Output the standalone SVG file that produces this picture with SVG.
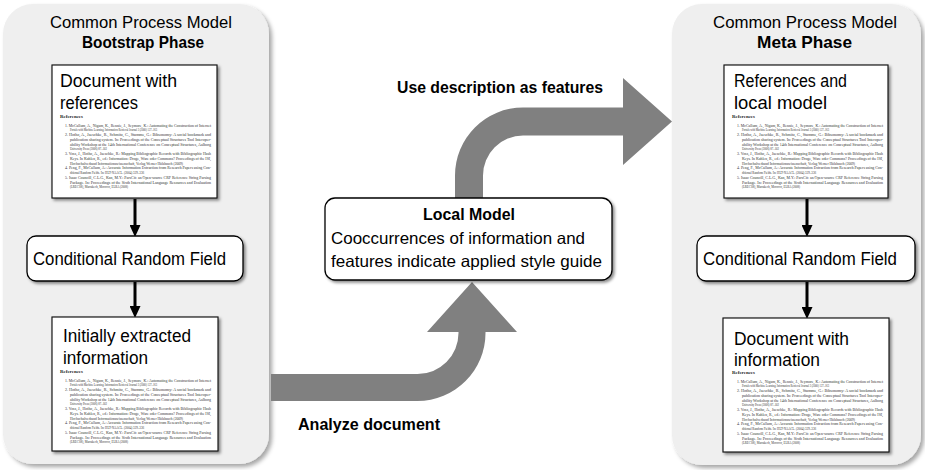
<svg xmlns="http://www.w3.org/2000/svg" xmlns:xlink="http://www.w3.org/1999/xlink" width="925" height="470" viewBox="0 0 925 470">
<defs>
<style>
.panel{fill:#efefef;filter:url(#shp)}
.box{fill:#fff;stroke:#000;stroke-width:1.3;filter:url(#sh)}
.doc{fill:#fff;stroke:#1a1a1a;stroke-width:1.2;filter:url(#sh)}
.t{font-family:"Liberation Sans",Arial,sans-serif;fill:#000}
.b{font-weight:bold}
.big{fill:#808080}
.conn{stroke:#000;stroke-width:3;fill:none;marker-end:url(#ah)}
.ref{font-family:"Liberation Serif","Times New Roman",serif;font-size:4px;fill:#333}
.refh{font-family:"Liberation Serif","Times New Roman",serif;font-size:4.5px;font-weight:bold;fill:#222}
</style>
<filter id="sh" x="-10%" y="-10%" width="130%" height="130%">
<feDropShadow dx="2" dy="2" stdDeviation="1.4" flood-color="#000" flood-opacity="0.45"/>
</filter>
<filter id="shp" x="-5%" y="-5%" width="115%" height="115%">
<feDropShadow dx="3" dy="3" stdDeviation="2" flood-color="#000" flood-opacity="0.35"/>
</filter>
<marker id="ah" markerUnits="userSpaceOnUse" viewBox="0 0 12 11" markerWidth="12" markerHeight="11" refX="0" refY="5.5" orient="auto">
<path d="M0,0 L12,5.5 L0,11 Z" fill="#000"/>
</marker>
<g id="refs">
<text class="refh" x="0" y="0" textLength="23" lengthAdjust="spacingAndGlyphs">References</text>
<text class="ref" x="5" y="8.5" textLength="146" lengthAdjust="spacingAndGlyphs">1. McCallum, A., Nigam, K., Rennie, J., Seymore, K.: Automating the Construction of Internet</text>
<text class="ref" x="10" y="13.25" textLength="87" lengthAdjust="spacingAndGlyphs">Portals with Machine Learning. Information Retrieval Journal 3 (2000) 127–163</text>
<text class="ref" x="5" y="18" textLength="146" lengthAdjust="spacingAndGlyphs">2. Hotho, A., Jaeschke, R., Schmitz, C., Stumme, G.: Bibsonomy: A social bookmark and</text>
<text class="ref" x="10" y="22.75" textLength="141" lengthAdjust="spacingAndGlyphs">publication sharing system. In: Proceedings of the Conceptual Structures Tool Interoper-</text>
<text class="ref" x="10" y="27.5" textLength="141" lengthAdjust="spacingAndGlyphs">ability Workshop at the 14th International Conference on Conceptual Structures, Aalborg</text>
<text class="ref" x="10" y="32.25" textLength="37" lengthAdjust="spacingAndGlyphs">University Press (2006) 87–102</text>
<text class="ref" x="5" y="37" textLength="146" lengthAdjust="spacingAndGlyphs">3. Voss, J., Hotho, A., Jaeschke, R.: Mapping Bibliographic Records with Bibliographic Hash</text>
<text class="ref" x="10" y="41.75" textLength="141" lengthAdjust="spacingAndGlyphs">Keys. In Kuhlen, R., ed.: Information: Droge, Ware oder Commons? Proceedings of the ISI,</text>
<text class="ref" x="10" y="46.5" textLength="113" lengthAdjust="spacingAndGlyphs">Hochschulverband Informationswissenschaft, Verlag Werner Hülsbusch (2009)</text>
<text class="ref" x="5" y="51.25" textLength="146" lengthAdjust="spacingAndGlyphs">4. Peng, F., McCallum, A.: Accurate Information Extraction from Research Papers using Con-</text>
<text class="ref" x="10" y="56" textLength="74" lengthAdjust="spacingAndGlyphs">ditional Random Fields. In: HLT-NAACL. (2004) 329–336</text>
<text class="ref" x="5" y="60.75" textLength="146" lengthAdjust="spacingAndGlyphs">5. Isaac Councill, C.L.G., Kan, M.Y.: ParsCit: an Open-source CRF Reference String Parsing</text>
<text class="ref" x="10" y="65.5" textLength="141" lengthAdjust="spacingAndGlyphs">Package. In: Proceedings of the Sixth International Language Resources and Evaluation</text>
<text class="ref" x="10" y="70.25" textLength="58" lengthAdjust="spacingAndGlyphs">(LREC'08), Marrakech, Morocco, ELRA (2008)</text>
</g>
</defs>

<g id="panel-bootstrap">
<rect class="panel" x="3" y="4" width="266" height="460" rx="30"/>
<text class="t" x="141" y="27.5" font-size="16.5" text-anchor="middle" textLength="182" lengthAdjust="spacingAndGlyphs">Common Process Model</text>
<text class="t b" x="143" y="47.5" font-size="16.5" text-anchor="middle" textLength="122" lengthAdjust="spacingAndGlyphs">Bootstrap Phase</text>
</g>

<g id="panel-meta">
<rect class="panel" x="672" y="4" width="249" height="461" rx="30"/>
<text class="t" x="805" y="27.5" font-size="16.5" text-anchor="middle" textLength="184" lengthAdjust="spacingAndGlyphs">Common Process Model</text>
<text class="t b" x="804.5" y="48" font-size="16.5" text-anchor="middle" textLength="95" lengthAdjust="spacingAndGlyphs">Meta Phase</text>
</g>

<g id="connectors">
<path class="big" d="M271 374 L417.5 374 A41 41 0 0 0 458.5 333 L458.5 332 L427 332 L472 282 L517 332 L485.5 332 L485.5 333 A68 68 0 0 1 417.5 401 L271 401 Z"/>
<path class="big" d="M455 200 L455 175.5 A68 68 0 0 1 523 107.5 L623 107.5 L623 78 L672 121.5 L623 165 L623 135.5 L523 135.5 A40 40 0 0 0 483 175.5 L483 200 Z"/>
<path class="conn" d="M135 199 L135 225"/>
<path class="conn" d="M135 282 L135 306"/>
<path class="conn" d="M807 199 L807 225"/>
<path class="conn" d="M807 282 L807 307"/>
</g>

<g id="doc-references">
<rect class="doc" x="52" y="65" width="165" height="133"/>
<text class="t" x="60" y="87" font-size="17.5" textLength="117" lengthAdjust="spacingAndGlyphs">Document with</text>
<text class="t" x="60" y="109" font-size="17.5" textLength="78" lengthAdjust="spacingAndGlyphs">references</text>
<use xlink:href="#refs" href="#refs" x="60" y="118"/>
</g>

<g id="crf-bootstrap">
<rect class="box" x="27" y="236" width="216" height="45" rx="9"/>
<text class="t" x="33" y="265" font-size="17.5" textLength="193" lengthAdjust="spacingAndGlyphs">Conditional Random Field</text>
</g>

<g id="doc-extracted">
<rect class="doc" x="52" y="317" width="166" height="134"/>
<text class="t" x="63" y="341.5" font-size="17.5" textLength="128" lengthAdjust="spacingAndGlyphs">Initially extracted</text>
<text class="t" x="63" y="363.5" font-size="17.5" textLength="85" lengthAdjust="spacingAndGlyphs">information</text>
<use xlink:href="#refs" href="#refs" x="60" y="373"/>
</g>

<g id="local-model">
<rect class="box" x="325" y="198" width="287" height="82" rx="10"/>
<text class="t b" x="469" y="220" font-size="16.5" text-anchor="middle" textLength="92" lengthAdjust="spacingAndGlyphs">Local Model</text>
<text class="t" x="331" y="243.5" font-size="16.5" textLength="254" lengthAdjust="spacingAndGlyphs">Cooccurrences of information and</text>
<text class="t" x="331" y="267" font-size="16.5" textLength="271" lengthAdjust="spacingAndGlyphs">features indicate applied style guide</text>
</g>

<g id="label-use">
<text class="t b" x="397" y="93" font-size="16" textLength="206" lengthAdjust="spacingAndGlyphs">Use description as features</text>
</g>
<g id="label-analyze">
<text class="t b" x="298" y="429.5" font-size="16" textLength="142" lengthAdjust="spacingAndGlyphs">Analyze document</text>
</g>

<g id="doc-references-model">
<rect class="doc" x="724" y="65" width="164" height="133"/>
<text class="t" x="734" y="87" font-size="17.5" textLength="113" lengthAdjust="spacingAndGlyphs">References and</text>
<text class="t" x="734" y="109" font-size="17.5" textLength="93" lengthAdjust="spacingAndGlyphs">local model</text>
<use xlink:href="#refs" href="#refs" x="732" y="118"/>
</g>

<g id="crf-meta">
<rect class="box" x="697" y="236" width="218" height="45" rx="9"/>
<text class="t" x="703" y="265" font-size="17.5" textLength="194" lengthAdjust="spacingAndGlyphs">Conditional Random Field</text>
</g>

<g id="doc-information">
<rect class="doc" x="723" y="318" width="166" height="134"/>
<text class="t" x="734" y="344.5" font-size="17.5" textLength="115" lengthAdjust="spacingAndGlyphs">Document with</text>
<text class="t" x="734" y="366" font-size="17.5" textLength="86" lengthAdjust="spacingAndGlyphs">information</text>
<use xlink:href="#refs" href="#refs" x="732" y="374"/>
</g>
</svg>
